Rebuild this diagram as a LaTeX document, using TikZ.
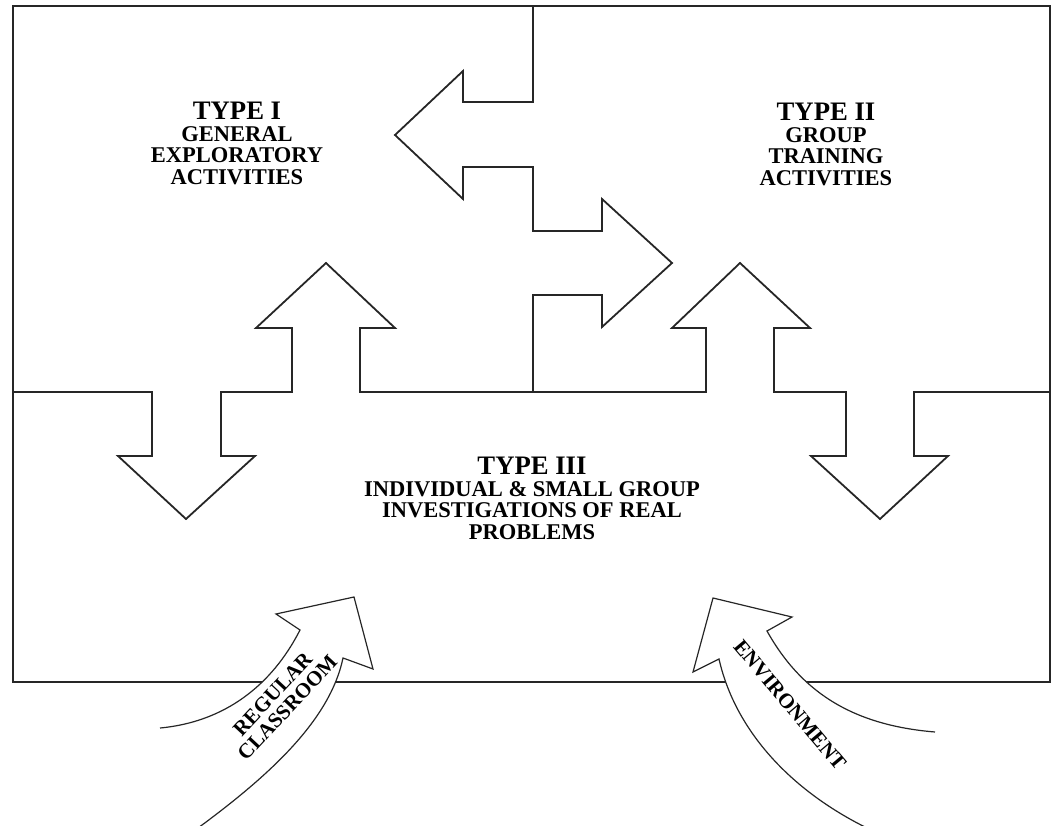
\documentclass[tikz,border=0pt]{standalone}
\usepackage{fontspec}
\setmainfont{Liberation Serif}
\tikzset{
  frame/.style={draw=black!85, line width=1.8pt, line join=miter},
  bigarrow/.style={draw=black!85, line width=1.2pt, fill=white, line join=miter},
  lbl/.style={font=\bfseries\fontsize{22.5}{21.5}\selectfont, align=center, inner sep=0pt, anchor=north},
  rot/.style={font=\bfseries\fontsize{21}{20}\selectfont, align=center, inner sep=0pt, anchor=center},
}
\newcommand{\typefont}{\fontsize{26.7}{21.5}\selectfont}
\begin{document}
\begin{tikzpicture}[x=1pt,y=-1pt]
\useasboundingbox (0,0) rectangle (1055,826);
% outer frame
\draw[frame] (13,6) rectangle (1050,682);
% boundary Type I / Type II
\draw[frame] (533,6) -- (533,102) -- (463,102) -- (463,71) -- (395,135) -- (463,199) -- (463,167) -- (533,167)
  -- (533,231) -- (602,231) -- (602,199) -- (672,263) -- (602,327) -- (602,295) -- (533,295) -- (533,392);
% boundary with Type III
\draw[frame] (13,392) -- (152,392) -- (152,456) -- (118,456) -- (186,519) -- (255,456) -- (221,456) -- (221,392)
  -- (292,392) -- (292,328) -- (256,328) -- (326,263) -- (395,328) -- (360,328) -- (360,392)
  -- (706,392) -- (706,328) -- (672,328) -- (740,263) -- (810,328) -- (774,328) -- (774,392)
  -- (846,392) -- (846,456) -- (811,456) -- (880,519) -- (948,456) -- (914,456) -- (914,392) -- (1050,392);
% curved arrows
\draw[bigarrow] (198,828) .. controls (270,775) and (330,720) .. (343,658) -- (373,669) -- (354,597)
  -- (276,614) -- (300,630) .. controls (272,685) and (225,722) .. (160,728);
\draw[bigarrow] (867,828) .. controls (790,790) and (735,730) .. (719,659) -- (693,672) -- (713,598)
  -- (792,617) -- (767,631) .. controls (800,690) and (850,725) .. (935,732);
% labels
\node[lbl] (t1) at (237,102) {{\typefont TYPE I}\\GENERAL\\EXPLORATORY\\ACTIVITIES};
\node[lbl] (t2) at (826,103) {{\typefont TYPE II}\\GROUP\\TRAINING\\ACTIVITIES};
\node[lbl] (t3) at (532,457) {{\typefont TYPE III}\\INDIVIDUAL \& SMALL GROUP\\INVESTIGATIONS OF REAL\\PROBLEMS};
\node[rot, rotate=47] (rc) at (280,701) {REGULAR\\CLASSROOM};
\node[rot, rotate=-50] (env) at (790,705) {ENVIRONMENT};
\end{tikzpicture}
\end{document}
